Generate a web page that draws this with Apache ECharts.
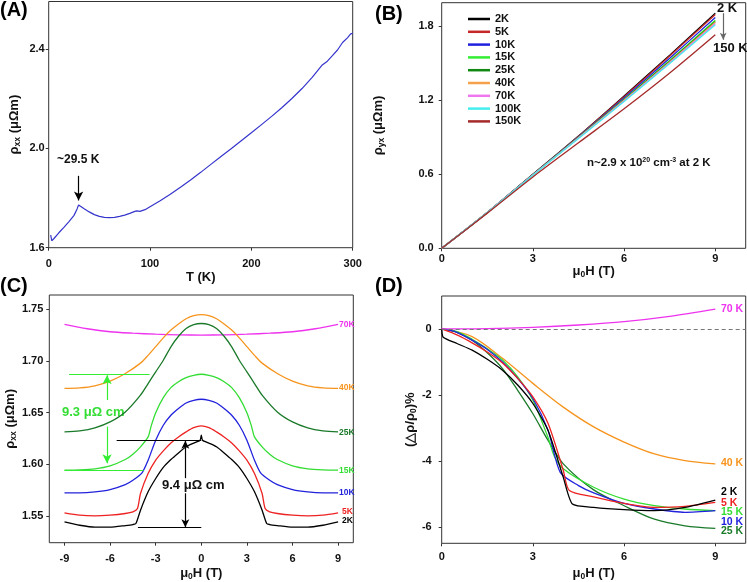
<!DOCTYPE html>
<html>
<head>
<meta charset="utf-8">
<script src="https://cdn.jsdelivr.net/npm/echarts@6/dist/echarts.min.js"></script>
<style>
  html, body { margin: 0; padding: 0; background: #fff; }
  #chart { width: 747px; height: 582px; }
</style>
</head>
<body>
<div id="chart"></div>
<script>
// (A) rho_xx vs T
const tempA = [2, 3, 5, 10, 15, 20, 25, 28, 29.5, 31, 35, 40, 45, 50, 55, 60, 65, 70, 75, 80, 85, 87, 88, 90, 95, 100,
  110, 120, 130, 140, 150, 160, 170, 180, 190, 200, 210, 220, 230, 240, 250, 260, 265, 270, 275, 280, 285, 290, 295, 298, 300];
const rhoA = [1.651, 1.628, 1.636, 1.660, 1.682, 1.705, 1.730, 1.756, 1.772, 1.768, 1.757, 1.744, 1.733, 1.726, 1.722, 1.721,
  1.722, 1.726, 1.731, 1.738, 1.746, 1.748, 1.744, 1.746, 1.753, 1.765, 1.789, 1.815, 1.843, 1.872, 1.903, 1.935, 1.967,
  1.998, 2.030, 2.062, 2.095, 2.128, 2.163, 2.200, 2.240, 2.285, 2.310, 2.335, 2.350, 2.372, 2.395, 2.425, 2.445, 2.460, 2.462];

// (B) Hall resistivity
const fieldB = [0, 1.5, 3, 4.5, 6, 7.5, 9];
const namesB = ['2K', '5K', '10K', '15K', '25K', '40K', '70K', '100K', '150K'];
const colorsB = ['#000000', '#c62828', '#1f1fe0', '#33ee33', '#118811', '#f5a04a', '#ee77ee', '#44eeee', '#a52a2a'];
const hall2K = [0, 0.290, 0.600, 0.910, 1.235, 1.565, 1.905];
const hall5K = [0, 0.290, 0.598, 0.908, 1.228, 1.558, 1.895];
const hall10K = [0, 0.290, 0.597, 0.903, 1.218, 1.540, 1.870];
const hall15K = [0, 0.290, 0.596, 0.900, 1.208, 1.522, 1.848];
const hall25K = [0, 0.290, 0.595, 0.898, 1.204, 1.516, 1.838];
const hall40K = [0, 0.290, 0.594, 0.895, 1.199, 1.510, 1.832];
const hall70K = [0, 0.290, 0.593, 0.893, 1.195, 1.504, 1.822];
const hall100K = [0, 0.290, 0.592, 0.890, 1.190, 1.497, 1.812];
const hall150K = [0, 0.285, 0.578, 0.855, 1.130, 1.420, 1.730];
const hallB = [hall2K, hall5K, hall10K, hall15K, hall25K, hall40K, hall70K, hall100K, hall150K];

// (C) rho_xx vs field, [field, rho]
const mrC70K = [[-9,1.7355],[-7.5,1.7313],[-6,1.7284],[-4.5,1.7270],[-3,1.7260],[-1.5,1.7254],[0,1.7252],[1.5,1.7254],[3,1.7260],[4.5,1.7270],[6,1.7284],[7.5,1.7313],[9,1.7355]];
const mrC40K = [[-9,1.6735],[-8,1.6740],[-7,1.6760],[-6,1.6805],[-5,1.6880],[-4,1.6980],[-3.5,1.7055],[-3,1.7140],[-2.5,1.7225],[-2,1.7300],[-1.5,1.7360],[-1,1.7410],[-0.5,1.7440],[0,1.7450],[0.5,1.7440],[1,1.7410],[1.5,1.7360],[2,1.7300],[2.5,1.7225],[3,1.7140],[3.5,1.7055],[4,1.6980],[5,1.6880],[6,1.6805],[7,1.6760],[8,1.6740],[9,1.6735]];
const mrC25K = [[-9,1.6314],[-8,1.6324],[-7,1.6353],[-6,1.6410],[-5,1.6507],[-4,1.6670],[-3.5,1.6782],[-3,1.6895],[-2.5,1.7008],[-2,1.7138],[-1.5,1.7240],[-1,1.7315],[-0.5,1.7352],[0,1.7364],[0.5,1.7352],[1,1.7315],[1.5,1.7240],[2,1.7138],[2.5,1.7008],[3,1.6895],[3.5,1.6782],[4,1.6670],[5,1.6507],[6,1.6410],[7,1.6353],[8,1.6324],[9,1.6314]];
const mrC15K = [[-9,1.5943],[-8,1.5946],[-7,1.5956],[-6,1.5985],[-5,1.6046],[-4.5,1.6098],[-4,1.6169],[-3.5,1.6265],[-3.3,1.6370],[-3,1.6500],[-2.5,1.6645],[-2,1.6743],[-1.5,1.6800],[-1,1.6840],[-0.5,1.6862],[0,1.6872],[0.5,1.6862],[1,1.6840],[1.5,1.6800],[2,1.6743],[2.5,1.6645],[3,1.6500],[3.3,1.6370],[3.5,1.6265],[4,1.6169],[4.5,1.6098],[5,1.6046],[6,1.5985],[7,1.5956],[8,1.5946],[9,1.5943]];
const mrC10K = [[-9,1.5723],[-8,1.5723],[-7,1.5732],[-6,1.5755],[-5,1.5803],[-4.5,1.5845],[-3.9,1.5917],[-3.5,1.6039],[-3,1.6233],[-2.5,1.6378],[-2,1.6475],[-1.5,1.6540],[-1,1.6594],[-0.5,1.6620],[0,1.6630],[0.5,1.6620],[1,1.6594],[1.5,1.6540],[2,1.6475],[2.5,1.6378],[3,1.6233],[3.5,1.6039],[3.9,1.5917],[4.5,1.5845],[5,1.5803],[6,1.5755],[7,1.5732],[8,1.5723],[9,1.5723]];
const mrC5K = [[-9,1.5530],[-8,1.5507],[-7,1.5500],[-6,1.5507],[-5,1.5523],[-4.5,1.5539],[-4.2,1.5571],[-4,1.5717],[-3.5,1.5910],[-3,1.6040],[-2.5,1.6130],[-2,1.6207],[-1.5,1.6265],[-1,1.6314],[-0.5,1.6355],[0,1.6372],[0.5,1.6355],[1,1.6314],[1.5,1.6265],[2,1.6207],[2.5,1.6130],[3,1.6040],[3.5,1.5910],[4,1.5717],[4.2,1.5571],[4.5,1.5539],[5,1.5523],[6,1.5507],[7,1.5500],[8,1.5507],[9,1.5530]];
const mrC2K = [[-9,1.5441],[-8,1.5409],[-7,1.5390],[-6,1.5390],[-5,1.5406],[-4.5,1.5416],[-4.3,1.5426],[-4,1.5555],[-3.5,1.5733],[-3,1.5862],[-2.5,1.5970],[-2,1.6046],[-1.5,1.6110],[-1,1.6169],[-0.5,1.6205],[-0.08,1.6233],[0,1.6282],[0.08,1.6233],[0.5,1.6205],[1,1.6169],[1.5,1.6110],[2,1.6046],[2.5,1.5970],[3,1.5862],[3.5,1.5733],[4,1.5555],[4.3,1.5426],[4.5,1.5416],[5,1.5406],[6,1.5390],[7,1.5390],[8,1.5409],[9,1.5441]];

// (D) MR ratio in %, [field, value]
const mrD70K = [[0,0],[1.5,0.01],[3,0.05],[4.5,0.12],[6,0.22],[7.5,0.38],[9,0.6]];
const mrD40K = [[0,0],[1,-0.23],[2,-0.89],[3,-1.65],[4,-2.37],[5,-2.97],[6,-3.43],[7,-3.79],[8,-3.99],[9,-4.09]];
const mrD25K = [[0,0],[0.5,-0.1],[1,-0.34],[1.5,-0.72],[2,-1.2],[2.5,-1.86],[3,-2.57],[3.5,-3.38],[4,-4.09],[5,-4.88],[6,-5.36],[7,-5.77],[8,-5.97],[9,-6.05]];
const mrD15K = [[0,0],[0.5,-0.08],[1,-0.31],[1.5,-0.6],[2,-0.94],[2.5,-1.45],[3,-2.16],[3.5,-3.3],[3.7,-3.85],[4,-4.24],[5,-4.8],[6,-5.16],[7,-5.36],[8,-5.46],[9,-5.51]];
const mrD10K = [[0,0],[0.5,-0.1],[1,-0.34],[1.5,-0.62],[2,-1.0],[2.5,-1.5],[3,-2.11],[3.5,-3.08],[3.9,-4.35],[4.5,-4.75],[5,-4.97],[6,-5.29],[7,-5.46],[8,-5.56],[9,-5.51]];
const mrD5K = [[0,0],[0.5,-0.18],[1,-0.42],[1.5,-0.7],[2,-1.03],[2.5,-1.5],[3,-2.06],[3.5,-2.87],[4,-4.29],[4.2,-4.9],[5,-5.09],[6,-5.29],[7,-5.41],[8,-5.38],[9,-5.26]];
const mrD2K = [[0,0],[0.05,-0.25],[0.5,-0.44],[1,-0.64],[1.5,-0.92],[2,-1.25],[2.5,-1.7],[3,-2.26],[3.5,-3.08],[4,-4.5],[4.3,-5.31],[5,-5.41],[6,-5.48],[7,-5.51],[8,-5.41],[9,-5.19]];

// tick values
const ticksAx = [0, 100, 200, 300];
const ticksAy = [1.6, 2.0, 2.4];
const ticksBx = [0, 3, 6, 9];
const ticksBy = [0, 0.6, 1.2, 1.8];
const ticksCx = [-9, -6, -3, 0, 3, 6, 9];
const ticksCy = [1.55, 1.60, 1.65, 1.70, 1.75];
const ticksDx = [0, 3, 6, 9];
const ticksDy = [0, -2, -4, -6];

const FF = "'Liberation Sans', Arial, sans-serif";
const INK = '#111';

const richName = {
  b: { fontFamily: FF, fontWeight: 'bold', fontSize: 13, color: INK },
  g: { fontFamily: FF, fontSize: 13, color: INK },
  s: { fontFamily: FF, fontWeight: 'bold', fontSize: 8.5, color: INK, padding: [6, 0, 0, 0] }
};

function axis(o) {
  return {
    type: 'value', gridIndex: o.grid, min: o.min, max: o.max,
    axisLine: { show: false, onZero: false },
    axisTick: { show: true, length: 3, customValues: o.ticks, lineStyle: { color: '#333' } },
    axisLabel: {
      customValues: o.ticks, margin: o.margin, formatter: o.fmt,
      fontFamily: FF, fontWeight: 'bold', fontSize: 11, color: INK
    },
    splitLine: { show: false },
    name: o.name, nameLocation: 'middle', nameGap: o.gap,
    nameTextStyle: { fontFamily: FF, fontWeight: 'bold', fontSize: 13, color: INK, rich: richName }
  };
}

const gridBox = { show: true, borderColor: '#333', borderWidth: 1, outerBoundsMode: 'none', containLabel: false };

const fieldName = '{b|μ}{s|0}{b|H (T)}';

function line(name, color, xi, data, smooth) {
  return {
    name: name, type: 'line', xAxisIndex: xi, yAxisIndex: xi, data: data,
    showSymbol: false, smooth: smooth, silent: true,
    lineStyle: { color: color, width: 1.3 }, itemStyle: { color: color }
  };
}

const arrowEnd = (a, b, color) => [
  { coord: a, symbol: 'none', lineStyle: { color: color, width: 1.2, type: 'solid' } },
  { coord: b, symbol: 'arrow' }
];
const plain = (a, b, color) => [
  { coord: a, symbol: 'none', lineStyle: { color: color, width: 1.2, type: 'solid' } },
  { coord: b, symbol: 'none' }
];
const markBase = { silent: true, animation: false, label: { show: false }, lineStyle: { type: 'solid' }, emphasis: { disabled: true } };

const series = [];

// A
const sA = line('A', '#3535cc', 0, tempA.map((t, i) => [t, rhoA[i]]), false);
sA.lineStyle.width = 1.2;
sA.markLine = Object.assign({}, markBase, {
  symbolSize: [7, 9],
  data: [arrowEnd([29.5, 1.889], [29.5, 1.79], '#000')]
});
series.push(sA);

// B
namesB.forEach((n, i) => {
  series.push(line(n, colorsB[i], 1, fieldB.map((f, j) => [f, hallB[i][j]]), 0.3));
});
series[series.length - 1].markLine = Object.assign({}, markBase, {
  symbolSize: [5, 7],
  data: [arrowEnd([9.26, 1.905], [9.26, 1.69], '#666')]
});

// C
const colC = { '70K': '#ee33ee', '40K': '#f7941d', '25K': '#1a7a2a', '15K': '#33dd33', '10K': '#2222dd', '5K': '#ee2222', '2K': '#000000' };
const sC = [
  line('C70K', colC['70K'], 2, mrC70K, 0.3),
  line('C40K', colC['40K'], 2, mrC40K, 0.3),
  line('C25K', colC['25K'], 2, mrC25K, 0.3),
  line('C15K', colC['15K'], 2, mrC15K, 0.25),
  line('C10K', colC['10K'], 2, mrC10K, 0.25),
  line('C5K', colC['5K'], 2, mrC5K, 0.25),
  line('C2K', colC['2K'], 2, mrC2K, 0.2)
];
sC[3].markLine = Object.assign({}, markBase, {
  symbolSize: [7, 9],
  data: [
    plain([-8.7, 1.6871], [-3.4, 1.6871], '#33ee33'),
    plain([-9, 1.5942], [-3.8, 1.5942], '#33ee33'),
    arrowEnd([-6.2, 1.6623], [-6.2, 1.6862], '#33ee33'),
    arrowEnd([-6.2, 1.6365], [-6.2, 1.6010], '#33ee33')
  ]
});
sC[6].markLine = Object.assign({}, markBase, {
  symbolSize: [6, 8],
  data: [
    plain([-5.57, 1.6235], [0, 1.6235], '#000'),
    plain([-4.17, 1.5387], [0, 1.5387], '#000'),
    arrowEnd([-1.05, 1.5865], [-1.05, 1.6228], '#000'),
    arrowEnd([-1.05, 1.5719], [-1.05, 1.5390], '#000')
  ]
});
series.push(...sC);

// D
const sD = [
  line('D40K', colC['40K'], 3, mrD40K, 0.3),
  line('D25K', colC['25K'], 3, mrD25K, 0.3),
  line('D15K', colC['15K'], 3, mrD15K, 0.3),
  line('D10K', colC['10K'], 3, mrD10K, 0.25),
  line('D5K', colC['5K'], 3, mrD5K, 0.25),
  line('D2K', colC['2K'], 3, mrD2K, 0.2),
  line('D70K', colC['70K'], 3, mrD70K, 0.3)
];
sD[6].markLine = Object.assign({}, markBase, {
  symbol: 'none',
  lineStyle: { color: '#777', type: [4, 3], width: 1 },
  data: [{ yAxis: 0 }]
});
series.push(...sD);

function txt(x, y, text, color, size, extra) {
  return Object.assign({
    type: 'text', x: x, y: y, silent: true,
    style: { text: text, fill: color, font: 'bold ' + size + 'px ' + FF, verticalAlign: 'middle' }
  }, extra || {});
}

const supStyle = { fill: INK, font: 'bold 7px ' + FF, padding: [0, 0, 6, 0] };
const baseStyle = { fill: INK, font: 'bold 11.5px ' + FF };

const graphics = [
  txt(0, 10, '(A)', '#000', 20),
  txt(375, 14, '(B)', '#000', 20),
  txt(0, 286, '(C)', '#000', 20),
  txt(375, 286, '(D)', '#000', 20),
  txt(57, 160, '~29.5 K', INK, 12),
  txt(717, 8, '2 K', INK, 13),
  txt(713, 48, '150 K', INK, 13),
  {
    type: 'text', x: 587, y: 163, silent: true,
    style: {
      text: '{a|n~2.9 x 10}{p|20}{a| cm}{p|-3}{a| at 2 K}', verticalAlign: 'middle',
      rich: { a: baseStyle, p: supStyle }
    }
  },
  txt(62, 412, '9.3 μΩ cm', '#33dd33', 13),
  txt(162, 485, '9.4 μΩ cm', INK, 13),
  // C curve labels
  txt(339, 325, '70K', colC['70K'], 8.5),
  txt(339, 388, '40K', colC['40K'], 8.5),
  txt(339, 432.5, '25K', colC['25K'], 8.5),
  txt(339, 470.5, '15K', colC['15K'], 8.5),
  txt(339, 492.5, '10K', colC['10K'], 8.5),
  txt(342, 511.5, '5K', colC['5K'], 8.5),
  txt(342, 521, '2K', colC['2K'], 8.5),
  // D curve labels
  txt(721, 309, '70 K', colC['70K'], 10.5),
  txt(721, 463.5, '40 K', colC['40K'], 10.5),
  txt(721, 492.5, '2 K', colC['2K'], 10.5),
  txt(721, 503, '5 K', colC['5K'], 10.5),
  txt(721, 512.5, '15 K', colC['15K'], 10.5),
  txt(721, 522, '10 K', colC['10K'], 10.5),
  txt(721, 531, '25 K', colC['25K'], 10.5)
];

const chart = echarts.init(document.getElementById('chart'));
chart.setOption({
  animation: false,
  backgroundColor: '#fff',
  grid: [
    Object.assign({ left: 48.7, top: 1.5, width: 304, height: 246.2 }, gridBox),
    Object.assign({ left: 441.7, top: 2.7, width: 304, height: 245.6 }, gridBox),
    Object.assign({ left: 49.3, top: 295, width: 304, height: 247.7 }, gridBox),
    Object.assign({ left: 441.7, top: 296, width: 304, height: 247.3 }, gridBox)
  ],
  xAxis: [
    axis({ grid: 0, min: 0, max: 300, ticks: ticksAx, margin: 11, fmt: v => String(v), name: '{b|T (K)}', gap: 17 }),
    axis({ grid: 1, min: 0, max: 10, ticks: ticksBx, margin: 5, fmt: v => String(v), name: fieldName, gap: 15 }),
    axis({ grid: 2, min: -10, max: 10, ticks: ticksCx, margin: 11, fmt: v => String(v), name: fieldName, gap: 23 }),
    axis({ grid: 3, min: 0, max: 10, ticks: ticksDx, margin: 8, fmt: v => String(v), name: fieldName, gap: 23 })
  ],
  yAxis: [
    axis({ grid: 0, min: 1.6, max: 2.59, ticks: ticksAy, margin: 4, fmt: v => v.toFixed(1), name: '{g|ρ}{s|xx}{b| (μΩm)}', gap: 27 }),
    axis({ grid: 1, min: 0, max: 1.99, ticks: ticksBy, margin: 8, fmt: v => v.toFixed(1), name: '{g|ρ}{s|yx}{b| (μΩm)}', gap: 56 }),
    axis({ grid: 2, min: 1.524, max: 1.764, ticks: ticksCy, margin: 6, fmt: v => v.toFixed(2), name: '{g|ρ}{s|xx}{b| (μΩm)}', gap: 28 }),
    axis({ grid: 3, min: -6.5, max: 1, ticks: ticksDy, margin: 10, fmt: v => String(v), name: '{b|(△ρ/ρ}{s|0}{b|)%}', gap: 24 })
  ],
  legend: {
    data: namesB, orient: 'vertical', left: 468, top: 13, padding: 0,
    itemWidth: 22, itemHeight: 2.5, itemGap: 0.8, icon: 'rect', selectedMode: false,
    textStyle: { fontFamily: FF, fontWeight: 'bold', fontSize: 11, color: INK, lineHeight: 12 }
  },
  series: series,
  graphic: graphics
});
</script>
</body>
</html>
